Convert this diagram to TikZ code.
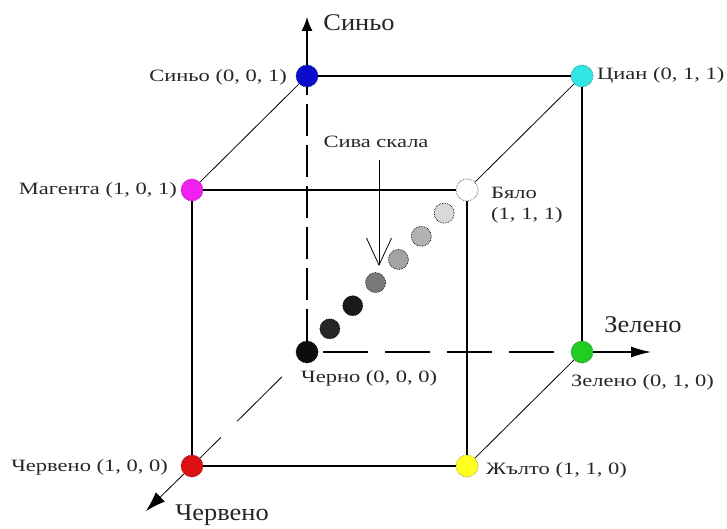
\documentclass[tikz,border=0pt]{standalone}
\usepackage{fontspec}
\newfontfamily\labfont[FakeStretch=1.3]{Liberation Serif}
\newfontfamily\axfont[FakeStretch=1.1]{Liberation Serif}
\usetikzlibrary{arrows.meta,calc}
\definecolor{blueC}{HTML}{0C0CCC}
\definecolor{cyanC}{HTML}{33E6E6}
\definecolor{magC}{HTML}{F020F0}
\definecolor{greenC}{HTML}{22CC22}
\definecolor{redC}{HTML}{DD1111}
\definecolor{yelC}{HTML}{FFFF22}
\begin{document}
\begin{tikzpicture}[x=1pt,y=-1pt,
  dot/.style={circle,minimum size=22pt,inner sep=0pt,line width=0.7pt,densely dotted},
  gdot/.style={circle,minimum size=20pt,inner sep=0pt,line width=0.7pt,densely dotted},
  lab/.style={font=\labfont\fontsize{17.3}{21}\selectfont,inner sep=0pt,text=black!85},
  axlab/.style={font=\axfont\fontsize{24}{28}\selectfont,inner sep=0pt,text=black!85},
  edge/.style={line width=1.3pt},
  thinedge/.style={line width=0.8pt}]
\useasboundingbox (0,0) rectangle (727,529);
\fill[white] (0,0) rectangle (727,529);

% vertices
\node[dot,fill=blueC,draw=blueC!60!black] (b) at (307,76) {};
\node[dot,fill=cyanC,draw=cyanC!60!black] (c) at (582,76) {};
\node[dot,fill=magC,draw=magC!60!black] (m) at (192,190) {};
\node[dot,fill=white,draw=black!70] (w) at (467,190) {};
\node[dot,fill=black!95,draw=black] (k) at (307,352) {};
\node[dot,fill=greenC,draw=greenC!60!black] (g) at (582,352) {};
\node[dot,fill=redC,draw=redC!60!black] (r) at (192,466) {};
\node[dot,fill=yelC,draw=yelC!60!black] (y) at (467,466) {};

% gray scale dots
\foreach \i/\s in {1/85,2/90,3/52,4/36,5/30,6/15}{
  \node[gdot,fill=black!\s,draw=black!\s!black] (gr\i) at ($(k)!\i/7!(w)$) {};
}

% hidden edges
\draw[edge,dash pattern=on 32pt off 9pt] (k) -- (b);
\draw[edge,dash pattern=on 45pt off 17pt,shorten <=5pt] (k) -- (g);
\draw[thinedge,dash pattern=on 63pt off 23pt on 200pt off 24pt,dash phase=286pt] (k) -- (r);

% visible edges
\draw[edge] (m) -- (w) -- (y) -- (r) -- (m);
\draw[edge] (b) -- (c) -- (g);
\draw[thinedge] (b) -- (m);
\draw[thinedge] (c) -- (w);
\draw[thinedge] (g) -- (y);

% axes
\coordinate (bz) at (307,17);
\coordinate (gz) at (651,352);
\coordinate (rz) at (146,511);
\draw[edge,-{Latex[length=14pt,width=11pt]}] (b) -- (bz);
\draw[edge,-{Latex[length=20pt,width=11pt]}] (g) -- (gz);
\draw[thinedge,-{Latex[length=20pt,width=13pt]}] (r) -- (rz);

% axis labels
\node[axlab] (lbz) at (359,23) {Синьо};
\node[axlab] (lgz) at (643,325) {Зелено};
\node[axlab] (lrz) at (222,515) {Червено};

% vertex labels
\node[lab,anchor=east] (lb) at (287,77) {Синьо (0, 0, 1)};
\node[lab,anchor=west] (lc) at (597,75) {Циан (0, 1, 1)};
\node[lab,anchor=east] (lm) at (177,190) {Магента (1, 0, 1)};
\node[lab,anchor=north west,align=left] (lw) at (491,187) {Бяло\\(1,\,\,1,\,\,1)};
\node[lab,anchor=west] (lk) at (301,378) {Черно (0, 0, 0)};
\node[lab,anchor=west] (lg) at (571,382) {Зелено (0, 1, 0)};
\node[lab,anchor=east] (lr) at (168,467) {Червено (1, 0, 0)};
\node[lab,anchor=west] (ly) at (486,470) {Жълто (1, 1, 0)};

% gray scale label and arrow
\node[lab] (sg) at (376,142) {Сива скала};
\coordinate (sgtip) at (379,266);
\draw[thinedge,-{Straight Barb[length=27pt,width=25pt]}] ([yshift=-12pt]sg.south -| sgtip) -- (sgtip);
\end{tikzpicture}
\end{document}
